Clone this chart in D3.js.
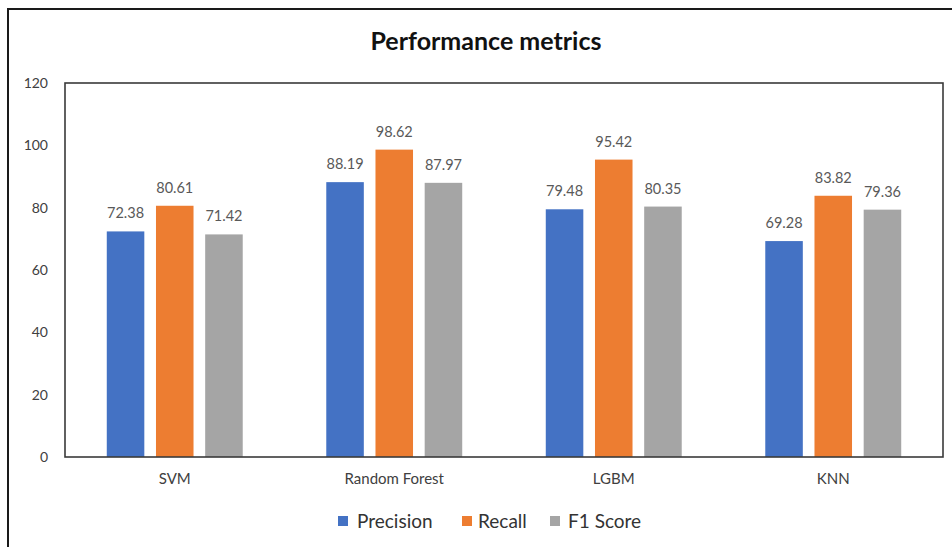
<!DOCTYPE html>
<html>
<head>
<meta charset="utf-8">
<script src="https://cdn.jsdelivr.net/npm/d3@7"></script>
<style>
  html, body { margin: 0; padding: 0; background: #fff; }
  svg { display: block; }
</style>
</head>
<body>
<svg id="chart" width="952" height="547"></svg>
<script>
const categories = ["SVM", "Random Forest", "LGBM", "KNN"];
const seriesNames = ["Precision", "Recall", "F1 Score"];
const precision = [72.38, 88.19, 79.48, 69.28];
const recall = [80.61, 98.62, 95.42, 83.82];
const f1Score = [71.42, 87.97, 80.35, 79.36];
const yTicks = [0, 20, 40, 60, 80, 100, 120];
const colors = ["#4472C4", "#ED7D31", "#A5A5A5"];

const series = [precision, recall, f1Score];
const rows = categories.map((c, i) => ({
  cat: c,
  vals: seriesNames.map((s, j) => ({ key: s, value: series[j][i], color: colors[j] }))
}));

const svg = d3.select("#chart");
const font = "Lato, 'Liberation Sans', sans-serif";
const plot = { left: 65, right: 943, top: 83, bottom: 457 };

// outer frame
svg.append("rect").attr("x", 8).attr("y", 9).attr("width", 980).attr("height", 580)
  .attr("fill", "none").attr("stroke", "#1a1a1a").attr("stroke-width", 2);

const x0 = d3.scaleBand().domain(categories).range([plot.left, plot.right]).padding(0);
const x1 = d3.scaleBand().domain(seriesNames).range([0, x0.bandwidth()])
  .paddingInner(0.237).paddingOuter(0.849);
const y = d3.scaleLinear().domain([0, 120]).range([plot.bottom, plot.top]);

// title
svg.append("text").attr("x", 486).attr("y", 50).attr("text-anchor", "middle")
  .attr("font-family", font).attr("font-weight", "bold").attr("font-size", 25)
  .attr("fill", "#111").text("Performance metrics");

// y axis labels
const yAxis = d3.axisLeft(y).tickValues(yTicks).tickSize(0).tickPadding(17);
const gy = svg.append("g").attr("transform", `translate(${plot.left},0)`).call(yAxis);
gy.select(".domain").remove();
gy.selectAll("text").attr("font-family", font).attr("font-size", 14).attr("fill", "#404040");

// x axis labels
const xAxis = d3.axisBottom(x0).tickSize(0).tickPadding(16);
const gx = svg.append("g").attr("transform", `translate(0,${plot.bottom})`).call(xAxis);
gx.select(".domain").remove();
gx.selectAll("text").attr("font-family", font).attr("font-size", 15).attr("fill", "#404040");

// bars
const groups = svg.append("g").selectAll("g").data(rows).join("g")
  .attr("transform", d => `translate(${x0(d.cat)},0)`);
groups.selectAll("rect").data(d => d.vals).join("rect")
  .attr("x", d => x1(d.key)).attr("width", x1.bandwidth())
  .attr("y", d => y(d.value)).attr("height", d => y(0) - y(d.value))
  .attr("fill", d => d.color);
groups.selectAll("text").data(d => d.vals).join("text")
  .attr("x", d => x1(d.key) + x1.bandwidth() / 2)
  .attr("y", d => y(d.value) - 13)
  .attr("text-anchor", "middle")
  .attr("font-family", font).attr("font-size", 14.5).attr("fill", "#595959")
  .text(d => d.value.toFixed(2));

// plot frame
svg.append("rect").attr("x", plot.left).attr("y", plot.top)
  .attr("width", plot.right - plot.left).attr("height", plot.bottom - plot.top)
  .attr("fill", "none").attr("stroke", "#3a3a3a").attr("stroke-width", 1.6);

// legend
const legendSq = [338, 462, 550];
const legendTx = [357, 478, 568];
const lg = svg.append("g").selectAll("g").data(seriesNames).join("g");
lg.append("rect").attr("x", (d, i) => legendSq[i]).attr("y", 516).attr("width", 10).attr("height", 10)
  .attr("fill", (d, i) => colors[i]);
lg.append("text").attr("x", (d, i) => legendTx[i]).attr("y", 528)
  .attr("font-family", font).attr("font-size", 19).attr("fill", "#333")
  .text(d => d);
</script>
</body>
</html>
